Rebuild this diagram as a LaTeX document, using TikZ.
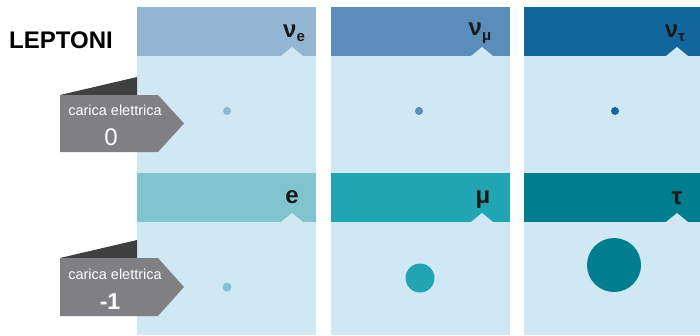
\documentclass[tikz,border=0pt]{standalone}
\usepackage{fontspec}
\setmainfont{Liberation Sans}
\usetikzlibrary{positioning}
\definecolor{fondo}{HTML}{D0E8F4}
\definecolor{neuA}{HTML}{94B6D3}
\definecolor{neuB}{HTML}{5A8DBA}
\definecolor{neuC}{HTML}{13669D}
\definecolor{carA}{HTML}{80C5CD}
\definecolor{carB}{HTML}{22A5B3}
\definecolor{carC}{HTML}{007D8F}
\definecolor{grigio}{HTML}{808084}
\definecolor{ombra}{HTML}{404040}
\tikzset{
  pannello/.style={fill=fondo},
  tacca/.style={fill=fondo},
  simbolo/.style={inner sep=0pt,font=\fontsize{24}{24}\selectfont\bfseries,text=black!90},
  targa/.style={fill=grigio},
  scuro/.style={fill=ombra},
  testo/.style={inner sep=0pt,text=white,font=\fontsize{14.5}{15}\selectfont},
  valore/.style={inner sep=0pt,text=white,font=\fontsize{23}{23}\selectfont\bfseries},
  titolo/.style={inner sep=0pt,anchor=west,font=\fontsize{24}{24}\selectfont\bfseries},
}
\newcommand{\pedice}[1]{\raisebox{-0.35ex}{\fontsize{15}{15}\selectfont\bfseries #1}}
\begin{document}
\begin{tikzpicture}[x=1pt,y=-1pt]
  \useasboundingbox (0,0) rectangle (700,335);
  % colonne
  \fill[pannello] (137,7) rectangle (316,335);
  \fill[pannello] (331,7) rectangle (510,335);
  \fill[pannello] (524,7) rectangle (700,335);
  % intestazioni neutrini
  \fill[neuA] (137,7) rectangle (316,56);
  \fill[neuB] (331,7) rectangle (510,56);
  \fill[neuC] (524,7) rectangle (700,56);
  \fill[tacca] (281,56) -- (292,47) -- (303,56) -- cycle;
  \fill[tacca] (471,56) -- (482,47) -- (493,56) -- cycle;
  \fill[tacca] (666,56) -- (677,47) -- (688,56) -- cycle;
  % intestazioni leptoni carichi
  \fill[carA] (137,173) rectangle (316,222);
  \fill[carB] (331,173) rectangle (510,222);
  \fill[carC] (524,173) rectangle (700,222);
  \fill[tacca] (281,222) -- (292,213) -- (303,222) -- cycle;
  \fill[tacca] (471,222) -- (482,213) -- (493,222) -- cycle;
  \fill[tacca] (666,222) -- (677,213) -- (688,222) -- cycle;
  % simboli
  \node[simbolo] (nue) at (294,33) {ν\pedice{e}};
  \node[simbolo] (numu) at (480,33) {ν\pedice{μ}};
  \node[simbolo] (nutau) at (675,33) {ν\pedice{τ}};
  \node[simbolo,font=\fontsize{24}{24}\selectfont\bfseries] (el) at (292,197) {e};
  \node[simbolo] (mu) at (483,200) {μ};
  \node[simbolo] (tau) at (677,198) {τ};
  % masse
  \fill[neuA] (227,111) circle (4);
  \fill[neuB] (419,111) circle (4);
  \fill[neuC] (615,111) circle (4);
  \fill[carA] (227,287) circle (4.5);
  \fill[carB] (420,278) circle (14.5);
  \fill[carC] (614,265) circle (27);
  % etichette di carica
  \fill[scuro] (60,95) -- (137,77) -- (137,95) -- cycle;
  \fill[targa] (60,95) -- (158,95) -- (184,123.5) -- (158,152) -- (60,152) -- cycle;
  \node[testo] (caricaA) at (115,110) {carica elettrica};
  \node[valore,font=\fontsize{24}{24}\selectfont] (zero) at (111,137) {0};
  \fill[scuro] (60,258) -- (137,240) -- (137,258) -- cycle;
  \fill[targa] (60,258) -- (158,258) -- (184,287) -- (158,316) -- (60,316) -- cycle;
  \node[testo] (caricaB) at (115,274) {carica elettrica};
  \node[valore] (meno) at (110,302) {-1};
  % titolo
  \node[titolo] (lep) at (9,40) {LEPTONI};
\end{tikzpicture}
\end{document}
